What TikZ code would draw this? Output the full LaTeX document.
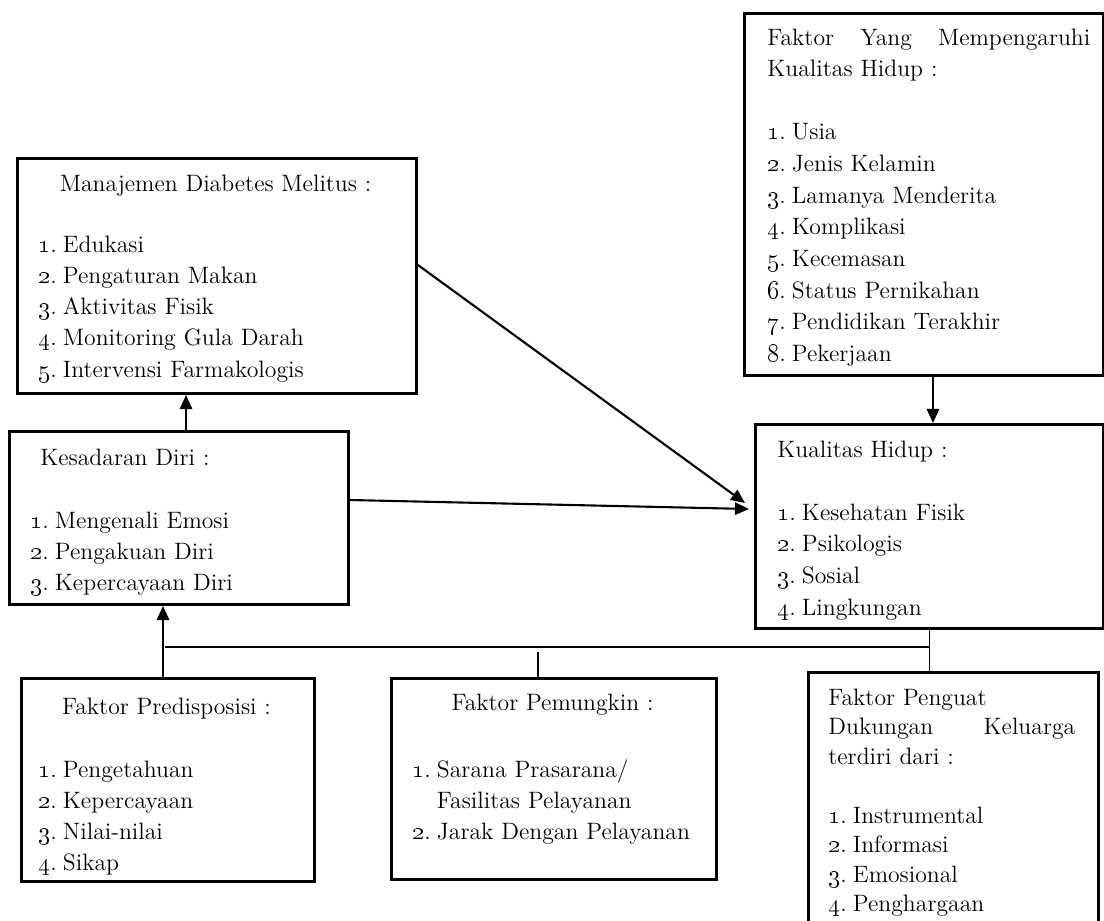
\documentclass[tikz,border=0pt]{standalone}
\usepackage{tikz}
\usetikzlibrary{arrows.meta}

\newcommand{\itm}[2]{\makebox[14pt][l]{\oldstylenums{#1}.}#2}

\begin{document}
\begin{tikzpicture}[x=0.02cm,y=-0.02cm]
  \tikzset{box/.style = {draw,line width=1.7pt,inner sep=0pt,anchor=north west}}
  \tikzset{txt/.style = {anchor=base west,inner sep=0pt,align=left,text width=6cm,font=\fontsize{13.5}{17.8}\selectfont}}
  \tikzset{ttl/.style = {anchor=base,inner sep=0pt,font=\fontsize{13.5}{17.8}\selectfont}}
  \tikzset{edge/.style = {line width=1.2pt,-{Triangle[length=8pt,width=7pt]}}}
  \tikzset{link/.style = {line width=0.9pt}}

  \useasboundingbox[fill=white] (0,0) rectangle (1104,920);

  % boxes
  \node[box,minimum width=7.18cm,minimum height=7.24cm] (fym) at (743,12) {};
  \node[box,minimum width=6.96cm,minimum height=4.08cm] (kh) at (754,423) {};
  \node[box,minimum width=7.98cm,minimum height=4.7cm] (mdm) at (16,157) {};
  \node[box,minimum width=6.78cm,minimum height=3.46cm] (kd) at (8,430) {};
  \node[box,minimum width=5.86cm,minimum height=4.06cm] (fp) at (20,677) {};
  \node[box,minimum width=6.5cm,minimum height=4.02cm] (fpm) at (390,677) {};
  \node[box,minimum width=5.8cm,minimum height=5.28cm] (fpg) at (807,671) {};

  % texts
  \node[txt,text width=6.46cm,font=\fontsize{13.5}{18}\selectfont] (fymT) at (767,45)
    {Faktor\hfill Yang\hfill Mempengaruhi\\Kualitas Hidup :\\[18pt]
     \itm{1}{Usia}\\\itm{2}{Jenis Kelamin}\\\itm{3}{Lamanya Menderita}\\\itm{4}{Komplikasi}\\
     \itm{5}{Kecemasan}\\\itm{6}{Status Pernikahan}\\\itm{7}{Pendidikan Terakhir}\\\itm{8}{Pekerjaan}};
  \node[txt,font=\fontsize{13.5}{18}\selectfont] (khT) at (777,457)
    {Kualitas Hidup :\\[18pt]
     \itm{1}{Kesehatan Fisik}\\\itm{2}{Psikologis}\\\itm{3}{Sosial}\\\itm{4}{Lingkungan}};
  \node[ttl] (mdmT) at (215.5,191) {Manajemen Diabetes Melitus :};
  \node[txt] (mdmL) at (38,252)
    {\itm{1}{Edukasi}\\\itm{2}{Pengaturan Makan}\\\itm{3}{Aktivitas Fisik}\\
     \itm{4}{Monitoring Gula Darah}\\\itm{5}{Intervensi Farmakologis}};
  \node[txt] (kdT) at (40,465) {Kesadaran Diri :};
  \node[txt] (kdL) at (30,528)
    {\itm{1}{Mengenali Emosi}\\\itm{2}{Pengakuan Diri}\\\itm{3}{Kepercayaan Diri}};
  \node[ttl] (fpT) at (166.5,714) {Faktor Predisposisi :};
  \node[txt] (fpL) at (38,777)
    {\itm{1}{Pengetahuan}\\\itm{2}{Kepercayaan}\\\itm{3}{Nilai-nilai}\\\itm{4}{Sikap}};
  \node[ttl] (fpmT) at (552.5,710) {Faktor Pemungkin :};
  \node[txt] (fpmL) at (412,777)
    {\itm{1}{Sarana Prasarana/}\\\hspace*{14pt}Fasilitas Pelayanan\\\itm{2}{Jarak Dengan Pelayanan}};
  \node[txt,text width=4.94cm,font=\fontsize{13.5}{16.8}\selectfont] (fpgT) at (828,705)
    {Faktor Penguat\\Dukungan\hfill Keluarga\\terdiri dari :\\[16.8pt]
     \itm{1}{Instrumental}\\\itm{2}{Informasi}\\\itm{3}{Emosional}\\\itm{4}{Penghargaan}};

  % connectors
  \coordinate (t1) at (745,503);
  \coordinate (t2) at (749,509);
  \coordinate (j1) at (165,647);
  \coordinate (j2) at (538,652);

  \foreach \a/\b/\x in {fym.south/kh.north/933, kd.north/mdm.south/186, fp.north/kd.south/163}
    \draw[edge] (\a -| \x,0) -- (\b -| \x,0);
  \draw[edge] (mdm.east |- 0,265) -- (t1);
  \draw[edge] (kd.east |- 0,500) -- (t2);

  \draw[link] (j1) -- (j1 -| kh.south);
  \draw[link] (kh.south) -- (kh.south |- fpg.north);
  \draw[link] (j2) -- (j2 |- fpm.north);
\end{tikzpicture}
\end{document}
